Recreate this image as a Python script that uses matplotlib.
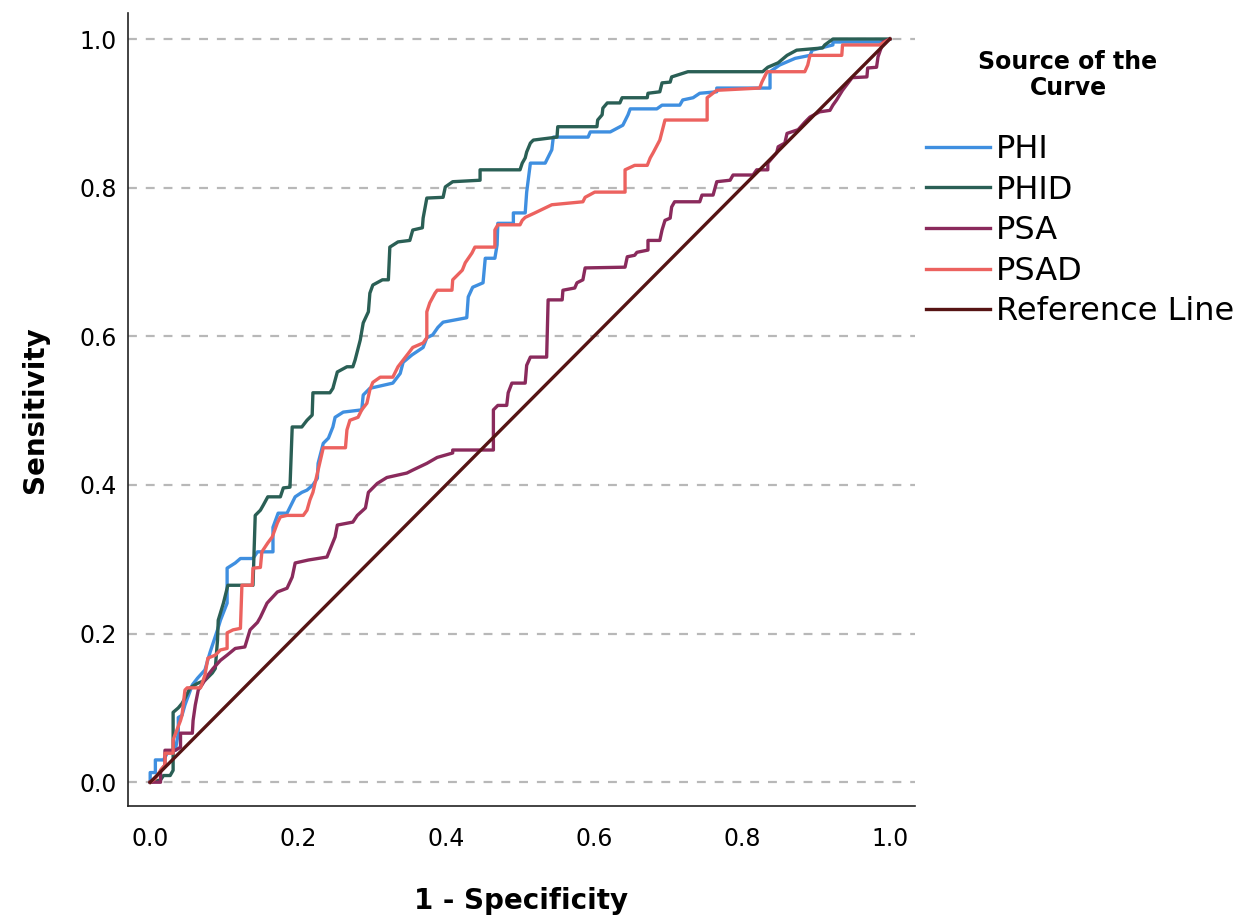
import numpy as np
import matplotlib
matplotlib.use('Agg')
from matplotlib import pyplot as plt

# ROC curve vertices (1 - specificity, sensitivity)
phi_fpr = [0, 0, 0.007, 0.007, 0.018, 0.023, 0.034, 0.038, 0.038, 0.043, 0.047, 0.057, 0.064, 0.074,
           0.081, 0.091, 0.095, 0.104, 0.104, 0.115, 0.122, 0.139, 0.145, 0.166, 0.166, 0.173, 0.185,
           0.192, 0.196, 0.205, 0.212, 0.220, 0.226, 0.227, 0.234, 0.241, 0.247, 0.250, 0.261, 0.286,
           0.288, 0.297, 0.328, 0.338, 0.342, 0.354, 0.369, 0.374, 0.382, 0.389, 0.396, 0.428, 0.430,
           0.436, 0.450, 0.453, 0.466, 0.469, 0.470, 0.491, 0.491, 0.507, 0.509, 0.514, 0.534, 0.543,
           0.545, 0.592, 0.595, 0.622, 0.639, 0.646, 0.649, 0.685, 0.692, 0.716, 0.720, 0.734, 0.743,
           0.766, 0.766, 0.838, 0.838, 0.851, 0.872, 0.892, 0.895, 0.923, 0.923, 0.986, 1.0]
phi_tpr = [0, 0.013, 0.013, 0.030, 0.030, 0.039, 0.043, 0.066, 0.087, 0.090, 0.104, 0.131, 0.140, 0.151,
           0.175, 0.205, 0.218, 0.241, 0.288, 0.295, 0.301, 0.301, 0.310, 0.310, 0.343, 0.362, 0.362,
           0.376, 0.384, 0.390, 0.393, 0.400, 0.409, 0.429, 0.456, 0.463, 0.478, 0.491, 0.498, 0.501,
           0.521, 0.530, 0.537, 0.550, 0.565, 0.575, 0.585, 0.598, 0.602, 0.612, 0.619, 0.625, 0.653,
           0.666, 0.672, 0.705, 0.705, 0.723, 0.752, 0.752, 0.766, 0.766, 0.794, 0.833, 0.833, 0.851,
           0.868, 0.868, 0.875, 0.875, 0.884, 0.898, 0.906, 0.906, 0.911, 0.911, 0.918, 0.921, 0.927,
           0.929, 0.934, 0.934, 0.956, 0.965, 0.974, 0.978, 0.985, 0.992, 0.996, 0.996, 1.0]

phid_fpr = [0, 0.014, 0.018, 0.027, 0.031, 0.031, 0.038, 0.043, 0.047, 0.054, 0.064, 0.074, 0.084, 0.088,
            0.091, 0.092, 0.099, 0.105, 0.139, 0.142, 0.149, 0.153, 0.159, 0.176, 0.180, 0.189, 0.192,
            0.205, 0.212, 0.219, 0.220, 0.243, 0.247, 0.253, 0.266, 0.274, 0.277, 0.284, 0.288, 0.295,
            0.297, 0.301, 0.314, 0.322, 0.324, 0.335, 0.351, 0.355, 0.368, 0.369, 0.374, 0.396, 0.399,
            0.409, 0.446, 0.446, 0.500, 0.503, 0.507, 0.509, 0.514, 0.518, 0.550, 0.551, 0.604, 0.605,
            0.611, 0.612, 0.618, 0.635, 0.638, 0.672, 0.673, 0.689, 0.692, 0.703, 0.705, 0.727, 0.828,
            0.835, 0.849, 0.861, 0.874, 0.909, 0.912, 0.923, 1.0]
phid_tpr = [0, 0.003, 0.009, 0.009, 0.016, 0.094, 0.100, 0.106, 0.113, 0.127, 0.133, 0.137, 0.147, 0.153,
            0.191, 0.218, 0.241, 0.265, 0.265, 0.359, 0.366, 0.373, 0.384, 0.384, 0.396, 0.397, 0.478,
            0.478, 0.487, 0.494, 0.524, 0.524, 0.530, 0.552, 0.559, 0.559, 0.568, 0.595, 0.618, 0.633,
            0.658, 0.669, 0.676, 0.676, 0.720, 0.727, 0.729, 0.743, 0.746, 0.759, 0.786, 0.787, 0.801,
            0.808, 0.810, 0.824, 0.824, 0.833, 0.840, 0.848, 0.860, 0.864, 0.868, 0.882, 0.882, 0.891,
            0.898, 0.907, 0.914, 0.914, 0.921, 0.921, 0.927, 0.929, 0.941, 0.942, 0.949, 0.956, 0.956,
            0.962, 0.968, 0.978, 0.985, 0.988, 0.992, 1.0, 1.0]

psa_fpr = [0, 0.014, 0.014, 0.020, 0.020, 0.034, 0.041, 0.041, 0.057, 0.058, 0.061, 0.065, 0.070, 0.078,
           0.085, 0.095, 0.104, 0.115, 0.128, 0.135, 0.145, 0.149, 0.158, 0.172, 0.185, 0.192, 0.196,
           0.214, 0.239, 0.250, 0.253, 0.274, 0.280, 0.291, 0.295, 0.307, 0.320, 0.347, 0.355, 0.374,
           0.388, 0.409, 0.409, 0.464, 0.464, 0.470, 0.482, 0.484, 0.489, 0.507, 0.509, 0.514, 0.536,
           0.538, 0.557, 0.558, 0.574, 0.577, 0.585, 0.588, 0.642, 0.645, 0.655, 0.658, 0.673, 0.673,
           0.689, 0.692, 0.696, 0.703, 0.705, 0.709, 0.743, 0.746, 0.761, 0.766, 0.784, 0.788, 0.815,
           0.820, 0.835, 0.835, 0.841, 0.847, 0.849, 0.858, 0.861, 0.876, 0.885, 0.892, 0.905, 0.919,
           0.923, 0.928, 0.936, 0.949, 0.969, 0.970, 0.982, 0.984, 0.991, 1.0]
psa_tpr = [0, 0, 0.016, 0.023, 0.043, 0.043, 0.047, 0.066, 0.066, 0.083, 0.104, 0.124, 0.131, 0.144,
           0.153, 0.164, 0.171, 0.180, 0.182, 0.205, 0.215, 0.222, 0.241, 0.256, 0.261, 0.276, 0.295,
           0.299, 0.303, 0.330, 0.346, 0.350, 0.359, 0.369, 0.390, 0.402, 0.410, 0.416, 0.420, 0.429,
           0.437, 0.443, 0.447, 0.447, 0.501, 0.507, 0.507, 0.524, 0.537, 0.537, 0.561, 0.572, 0.572,
           0.649, 0.649, 0.662, 0.665, 0.672, 0.676, 0.692, 0.693, 0.707, 0.709, 0.713, 0.716, 0.729,
           0.729, 0.743, 0.756, 0.759, 0.774, 0.781, 0.781, 0.790, 0.790, 0.808, 0.810, 0.817, 0.817,
           0.824, 0.824, 0.833, 0.840, 0.847, 0.855, 0.860, 0.873, 0.878, 0.888, 0.895, 0.902, 0.904,
           0.911, 0.918, 0.931, 0.948, 0.949, 0.961, 0.962, 0.976, 0.996, 1.0]

psad_fpr = [0, 0.007, 0.014, 0.020, 0.020, 0.031, 0.031, 0.036, 0.041, 0.043, 0.047, 0.050, 0.068, 0.074,
            0.078, 0.088, 0.095, 0.104, 0.104, 0.112, 0.122, 0.124, 0.138, 0.139, 0.149, 0.151, 0.159,
            0.165, 0.172, 0.176, 0.185, 0.207, 0.212, 0.216, 0.220, 0.227, 0.234, 0.264, 0.266, 0.270,
            0.281, 0.286, 0.293, 0.297, 0.301, 0.311, 0.328, 0.335, 0.342, 0.349, 0.355, 0.369, 0.374,
            0.374, 0.378, 0.385, 0.388, 0.408, 0.409, 0.415, 0.422, 0.426, 0.435, 0.439, 0.466, 0.466,
            0.470, 0.500, 0.503, 0.507, 0.520, 0.543, 0.585, 0.588, 0.601, 0.642, 0.642, 0.655, 0.672,
            0.676, 0.680, 0.689, 0.696, 0.753, 0.753, 0.766, 0.824, 0.827, 0.834, 0.885, 0.889, 0.892,
            0.935, 0.936, 0.986, 1.0]
psad_tpr = [0, 0.005, 0.016, 0.023, 0.039, 0.039, 0.057, 0.070, 0.083, 0.090, 0.124, 0.127, 0.127, 0.144,
            0.167, 0.171, 0.178, 0.180, 0.201, 0.205, 0.207, 0.265, 0.265, 0.288, 0.289, 0.310, 0.322,
            0.330, 0.349, 0.357, 0.359, 0.359, 0.366, 0.380, 0.390, 0.420, 0.450, 0.450, 0.474, 0.487,
            0.491, 0.501, 0.510, 0.528, 0.538, 0.545, 0.545, 0.559, 0.568, 0.577, 0.585, 0.591, 0.598,
            0.633, 0.645, 0.658, 0.662, 0.662, 0.676, 0.682, 0.689, 0.699, 0.712, 0.720, 0.720, 0.743,
            0.750, 0.750, 0.756, 0.760, 0.766, 0.777, 0.781, 0.787, 0.794, 0.794, 0.824, 0.830, 0.830,
            0.840, 0.847, 0.864, 0.891, 0.891, 0.921, 0.931, 0.934, 0.942, 0.956, 0.956, 0.965, 0.978,
            0.978, 0.992, 0.992, 1.0]

ref_line = [0, 1]

curves = [
    ('PHI', phi_fpr, phi_tpr, '#3f8fe0'),
    ('PHID', phid_fpr, phid_tpr, '#2a5f55'),
    ('PSA', psa_fpr, psa_tpr, '#8a2a5c'),
    ('PSAD', psad_fpr, psad_tpr, '#ec625f'),
]

fig = plt.figure(figsize=(12.37, 9.19), dpi=100)
ax = fig.add_axes([128 / 1237, 113 / 919, 787 / 1237, 793 / 919])

for name, fpr, tpr, col in curves:
    ax.plot(fpr, tpr, color=col, linewidth=2.4, label=name, zorder=3)
ax.plot(ref_line, ref_line, color='#561414', linewidth=2.4, label='Reference Line', zorder=4)

ax.set_xlim(-0.03, 1.034)
ax.set_ylim(-0.032, 1.035)
ticks = np.arange(0, 1.01, 0.2)
ax.set_xticks(ticks)
ax.set_yticks(ticks)
ax.set_xticklabels(['%.1f' % v for v in ticks])
ax.set_yticklabels(['%.1f' % v for v in ticks])
ax.tick_params(axis='both', length=0, labelsize=17)
ax.tick_params(axis='x', pad=15)
ax.tick_params(axis='y', pad=8)

ax.spines['top'].set_visible(False)
ax.spines['right'].set_visible(False)
for s in ['left', 'bottom']:
    ax.spines[s].set_linewidth(1.2)
    ax.spines[s].set_color('#222222')

ax.yaxis.grid(True, linestyle=(0, (4, 4)), linewidth=1.6, color='#b8b8b8', zorder=0)
ax.set_axisbelow(True)

ax.set_xlabel('1 - Specificity', fontsize=20, fontweight='bold', labelpad=26)
ax.set_ylabel('Sensitivity', fontsize=20, fontweight='bold', labelpad=22)

fig.text(1068 / 1237, 1 - 50 / 919, 'Source of the\nCurve', ha='center', va='top',
         fontsize=17, fontweight='bold', linespacing=1.1)
ax.legend(loc='upper left', bbox_to_anchor=(926 / 1237, 1 - 134 / 919), bbox_transform=fig.transFigure,
          frameon=False, fontsize=23, handlelength=2.0, handletextpad=0.2, labelspacing=0.3,
          borderpad=0, borderaxespad=0)

fig.savefig('out.png', dpi=100)
